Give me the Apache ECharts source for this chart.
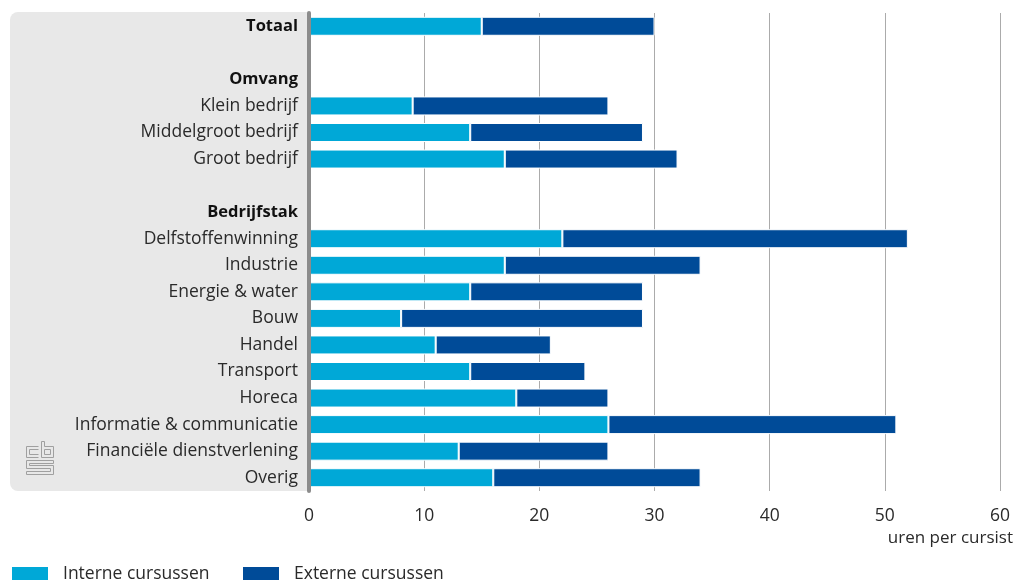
<!DOCTYPE html>
<html>
<head>
<meta charset="utf-8">
<script src="https://cdn.jsdelivr.net/npm/echarts@6/dist/echarts.min.js"></script>
<style>
  html, body { margin: 0; padding: 0; background: #fff; }
  #chart { width: 1015px; height: 580px; }
</style>
</head>
<body>
<div id="chart"></div>
<script>
// Rows from top to bottom; empty strings are spacer rows
const categories = [
  'Totaal', '', 'Omvang', 'Klein bedrijf', 'Middelgroot bedrijf', 'Groot bedrijf',
  '', 'Bedrijfstak', 'Delfstoffenwinning', 'Industrie', 'Energie & water', 'Bouw',
  'Handel', 'Transport', 'Horeca', 'Informatie & communicatie',
  'Financiële dienstverlening', 'Overig'
];
// Rows printed in bold
const headers = ['Totaal', 'Omvang', 'Bedrijfstak'];

// Hours per course participant
const interne = [15, null, null, 9, 14, 17, null, null, 22, 17, 14, 8, 11, 14, 18, 26, 13, 16];
const externe = [15, null, null, 17, 15, 15, null, null, 30, 17, 15, 21, 10, 10, 8, 25, 13, 18];

const xTicks = [0, 10, 20, 30, 40, 50, 60];
const seriesNames = ['Interne cursussen', 'Externe cursussen'];
const unitLabel = 'uren per cursist';

const FONT = '"Open Sans", "Noto Sans", sans-serif';
const FS = 17.5;
const TXT = '#2a2a2a';
const COL_INT = '#00a8d7';
const COL_EXT = '#004b98';

const chart = echarts.init(document.getElementById('chart'), null, { renderer: 'canvas' });

// CBS logo outline strokes
const logoStroke = { stroke: '#a0a0a0', lineWidth: 1, fill: null };
function pl(points) {
  return { type: 'polyline', shape: { points: points }, style: logoStroke, z: 1 };
}

const legendBase = {
  top: 565, padding: 0,
  itemWidth: 38, itemHeight: 16, icon: 'rect',
  textStyle: { fontFamily: FONT, fontSize: FS, color: TXT, padding: [0, 0, 0, 9] }
};

chart.setOption({
  animation: false,
  grid: { left: 309, right: 15, top: 13, bottom: 89 },
  xAxis: {
    type: 'value',
    min: xTicks[0],
    max: xTicks[xTicks.length - 1],
    interval: 10,
    axisLine: { show: false },
    axisTick: { show: false },
    splitLine: { show: true, lineStyle: { color: '#ababab', width: 1 } },
    axisLabel: { color: TXT, fontFamily: FONT, fontSize: FS, margin: 16 }
  },
  yAxis: {
    type: 'category',
    data: categories,
    inverse: true,
    axisTick: { show: false },
    axisLine: { show: true, lineStyle: { color: '#8c8c8c', width: 4 } },
    axisLabel: {
      margin: 11,
      fontFamily: FONT,
      fontSize: FS,
      color: TXT,
      formatter: function (v) {
        return headers.indexOf(v) >= 0 ? '{b|' + v + '}' : v;
      },
      rich: {
        b: { fontFamily: FONT, fontSize: 16.5, fontWeight: 'bold', color: '#111' }
      }
    },
    z: 5
  },
  legend: [
    Object.assign({ data: [seriesNames[0]], left: 10 }, legendBase),
    Object.assign({ data: [seriesNames[1]], left: 241 }, legendBase)
  ],
  graphic: [
    {
      type: 'rect', left: 10, top: 12, z: -10,
      shape: { width: 299, height: 479, r: [8, 0, 0, 8] },
      style: { fill: '#e8e8e8' }
    },
    {
      type: 'text', right: 2, top: 530, z: 5,
      style: { text: unitLabel, fontFamily: FONT, fontSize: 17, fill: TXT, textAlign: 'right' }
    },
    {
      type: 'group', left: 24, top: 439, z: 1,
      children: [
        // c
        pl([[12, 5], [0, 5], [0, 16], [12, 16]]),
        pl([[12, 8], [3, 8], [3, 13], [12, 13]]),
        // b
        pl([[15, 0], [15, 16], [27, 16], [27, 5], [18, 5], [18, 0], [15, 0]]),
        pl([[18, 8], [24, 8], [24, 13], [18, 13], [18, 8]]),
        // S
        pl([[27, 19], [0, 19], [0, 27], [24, 27], [24, 30], [0, 30], [0, 33], [27, 33], [27, 24], [3, 24], [3, 22], [27, 22], [27, 19]])
      ]
    }
  ],
  series: [
    {
      name: seriesNames[0], type: 'bar', stack: 'uren', data: interne,
      barWidth: 19,
      itemStyle: { color: COL_INT, borderColor: '#ffffff', borderWidth: 1 },
      z: 3
    },
    {
      name: seriesNames[1], type: 'bar', stack: 'uren', data: externe,
      barWidth: 19,
      itemStyle: { color: COL_EXT, borderColor: '#ffffff', borderWidth: 1 },
      z: 3
    }
  ]
});
</script>
</body>
</html>
